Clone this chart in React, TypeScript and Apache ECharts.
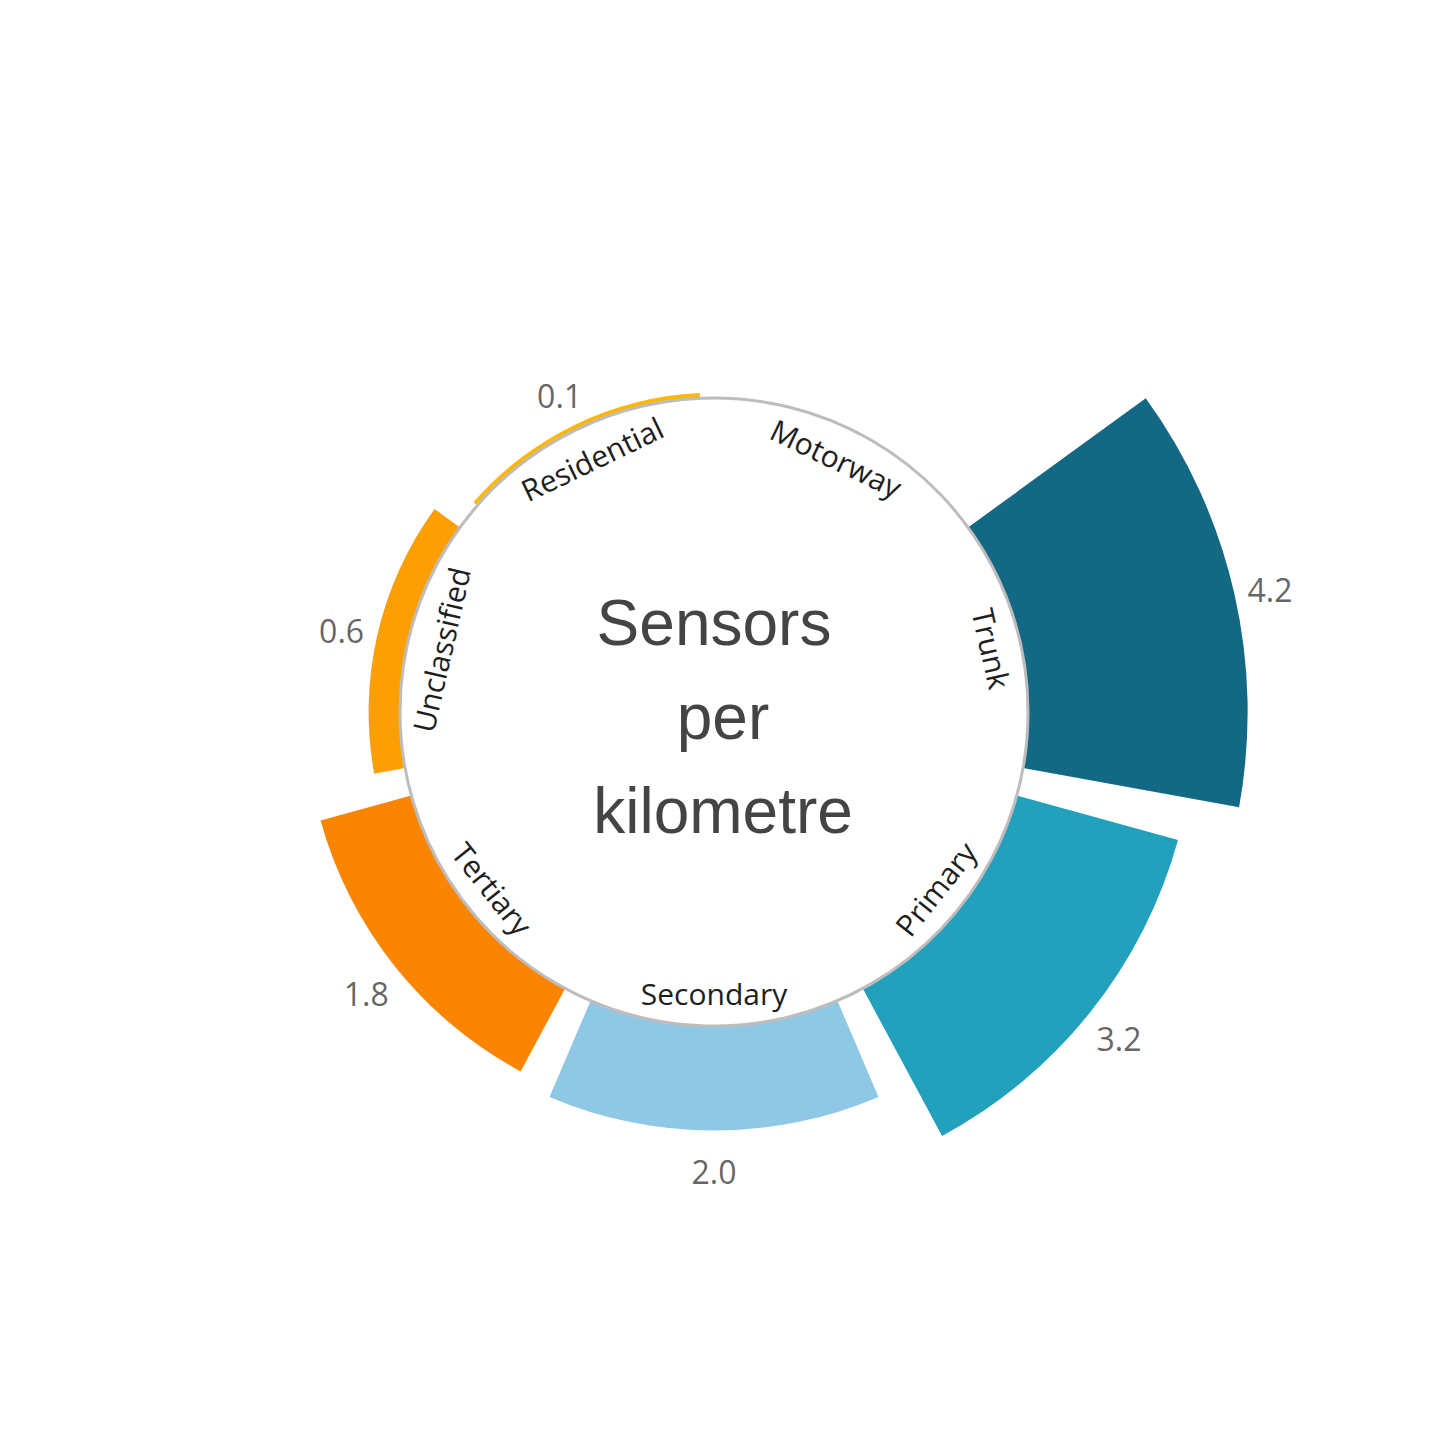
import React, { useEffect, useRef } from 'react';
import * as echarts from 'echarts';

const categories = ['Motorway', 'Trunk', 'Primary', 'Secondary', 'Tertiary', 'Unclassified', 'Residential'];
const values = [0, 4.2, 3.2, 2.0, 1.8, 0.6, 0.1];
const barColors = ['#023047', '#136884', '#22a0bc', '#8fc8e5', '#fa8503', '#fd9f03', '#ffb703'];
const centerTitle = ['Sensors', 'per', 'kilometre'];

const CX = 714;
const CY = 712;
const R0 = 314;
const PX_PER_UNIT = 52.3;
const RMAX = 5;
const LABEL_ARC_R = 286;
const VALUE_LABEL_OFFSET = 0.7;
const CAT_FONT = 30;
const CAT_FAMILY = '"Open Sans", sans-serif';

function measure(text: string, font: string): number {
  const c = document.createElement('canvas');
  const ctx = c.getContext('2d');
  if (!ctx) return text.length * 15;
  ctx.font = font;
  return ctx.measureText(text).width;
}

export default function App() {
  const ref = useRef<HTMLDivElement>(null);

  useEffect(() => {
    const chart = echarts.init(ref.current as HTMLDivElement, null, { renderer: 'svg' });
    const n = categories.length;

    const catLabels = categories.map((name, i) => {
      const deg = ((i + 0.5) * 360) / n;
      const rad = (deg * Math.PI) / 180;
      const bottom = deg > 90 && deg < 270;
      const w = measure(name, `${CAT_FONT}px "Open Sans"`);
      const half = w / 2 / LABEL_ARC_R;
      const rs = (LABEL_ARC_R * (1 + Math.cos(half))) / 2;
      return {
        type: 'text',
        x: CX + rs * Math.sin(rad),
        y: CY - rs * Math.cos(rad),
        rotation: bottom ? Math.PI - rad : -rad,
        z: 100,
        silent: true,
        style: {
          text: name,
          fontSize: CAT_FONT,
          fontFamily: CAT_FAMILY,
          fill: '#1e1e1e',
          align: 'center',
          verticalAlign: 'middle',
        },
      };
    });

    const titleX = [714, 723, 723];
    const titleY = [623, 717, 811];
    const titleTexts = centerTitle.map((t, i) => ({
      type: 'text',
      x: titleX[i],
      y: titleY[i],
      z: 100,
      silent: true,
      style: {
        text: t,
        fontSize: 64,
        fontFamily: '"Liberation Sans", Arial, sans-serif',
        fill: '#444444',
        align: 'center',
        verticalAlign: 'middle',
      },
    }));

    const labelData = values
      .map((v, i) => (v > 0 ? [v + VALUE_LABEL_OFFSET, i, v] : null))
      .filter((d) => d !== null);

    chart.setOption({
      animation: false,
      backgroundColor: '#ffffff',
      polar: {
        center: [CX, CY],
        radius: [R0, R0 + PX_PER_UNIT * RMAX],
      },
      angleAxis: {
        type: 'category',
        data: categories,
        startAngle: 90,
        clockwise: true,
        axisLine: { show: false },
        axisTick: { show: false },
        axisLabel: { show: false },
        splitLine: { show: false },
      },
      radiusAxis: {
        type: 'value',
        min: 0,
        max: RMAX,
        axisLine: { show: false },
        axisTick: { show: false },
        axisLabel: { show: false },
        splitLine: { show: false },
      },
      series: [
        {
          type: 'bar',
          coordinateSystem: 'polar',
          barCategoryGap: '10%',
          silent: true,
          z: 2,
          data: values.map((v, i) => ({ value: v, itemStyle: { color: barColors[i] } })),
        },
        {
          type: 'scatter',
          coordinateSystem: 'polar',
          silent: true,
          symbolSize: 1,
          itemStyle: { color: 'rgba(0,0,0,0)' },
          z: 5,
          label: {
            show: true,
            position: 'inside',
            offset: [0, 4],
            formatter: (p: any) => Number(p.value[2]).toFixed(1),
            fontSize: 32,
            fontFamily: '"Open Sans", sans-serif',
            color: '#3c3c3c',
          },
          data: labelData,
        },
      ],
      graphic: [
        {
          type: 'circle',
          z: 100,
          silent: true,
          shape: { cx: CX, cy: CY, r: R0 },
          style: { fill: 'none', stroke: '#bdbdbd', lineWidth: 3 },
        },
        ...titleTexts,
        ...catLabels,
      ],
    });

    return () => {
      chart.dispose();
    };
  }, []);

  return (
    <div
      ref={ref}
      style={{ position: 'fixed', left: 0, top: 0, width: 1429, height: 1429, background: '#fff' }}
    />
  );
}
